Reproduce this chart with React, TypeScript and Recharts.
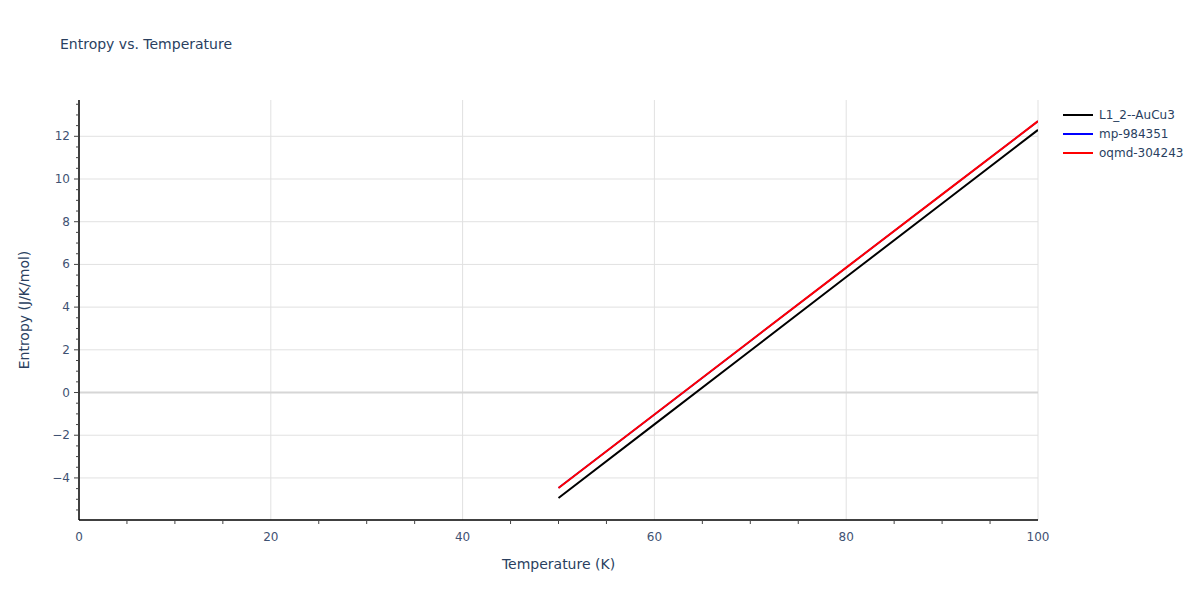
import { LineChart, Line, XAxis, YAxis, ReferenceLine, Legend } from "recharts";

const temperatures = [50, 60, 70, 80, 90, 100];
const l12AuCu3 = [-4.94, -1.49, 1.96, 5.41, 8.85, 12.3];
const mp984351 = [-4.47, -1.03, 2.41, 5.85, 9.28, 12.71];
const oqmd304243 = [-4.47, -1.03, 2.41, 5.85, 9.28, 12.71];

const xTicks = [0, 5, 10, 15, 20, 25, 30, 35, 40, 45, 50, 55, 60, 65, 70, 75, 80, 85, 90, 95, 100];
const xMajor = [0, 20, 40, 60, 80, 100];
const yTicks = [
  -5.5, -5, -4.5, -4, -3.5, -3, -2.5, -2, -1.5, -1, -0.5, 0, 0.5, 1, 1.5, 2, 2.5, 3, 3.5, 4, 4.5,
  5, 5.5, 6, 6.5, 7, 7.5, 8, 8.5, 9, 9.5, 10, 10.5, 11, 11.5, 12, 12.5, 13, 13.5,
];
const yMajor = [-4, -2, 0, 2, 4, 6, 8, 10, 12];

const data = temperatures.map((t, i) => ({
  t,
  l12: l12AuCu3[i],
  mp: mp984351[i],
  oqmd: oqmd304243[i],
}));

const font = '"DejaVu Sans", verdana, arial, sans-serif';
const textColor = "#2a3f5f";
const tickColor = "#3f5273";
const gridColor = "#e1e1e1";

const fmt = (v: number) => (v < 0 ? "\u2212" + Math.abs(v) : String(v));

const XTick = (props: any) => {
  const { x, y, payload } = props;
  const major = xMajor.includes(payload.value);
  return (
    <g>
      {!major && <line x1={x} y1={y} x2={x} y2={y + 4} stroke="#444" />}
      {major && (
        <text x={x} y={y + 21} textAnchor="middle" fontSize={12} fill={tickColor} fontFamily={font}>
          {fmt(payload.value)}
        </text>
      )}
    </g>
  );
};

const YTick = (props: any) => {
  const { x, y, payload } = props;
  const major = yMajor.includes(payload.value);
  return (
    <g>
      <line x1={x - (major ? 5 : 3)} y1={y} x2={x} y2={y} stroke="#444" />
      {major && (
        <text x={x - 9} y={y + 4} textAnchor="end" fontSize={12} fill={tickColor} fontFamily={font}>
          {fmt(payload.value)}
        </text>
      )}
    </g>
  );
};

const LegendBox = (props: any) => (
  <div style={{ fontFamily: font, fontSize: 12, color: textColor }}>
    {props.payload.map((p: any) => (
      <div key={p.value} style={{ display: "flex", alignItems: "center", height: 19 }}>
        <svg width={36} height={10}>
          <line x1={1} y1={5} x2={31} y2={5} stroke={p.color} strokeWidth={2} />
        </svg>
        <span style={{ marginLeft: 1 }}>{p.value}</span>
      </div>
    ))}
  </div>
);

export default function App() {
  return (
    <div style={{ position: "relative", width: 1200, height: 600, background: "#fff" }}>
      <style>{`body { margin: 0; }`}</style>
      <div
        style={{
          position: "absolute",
          left: 60,
          top: 36,
          fontFamily: font,
          fontSize: 14,
          color: textColor,
        }}
      >
        Entropy vs. Temperature
      </div>
      <LineChart
        width={1200}
        height={600}
        data={data}
        margin={{ top: 100, right: 22, left: 39, bottom: 50 }}
      >
        {xMajor.slice(1).map((v) => (
          <ReferenceLine key={"x" + v} x={v} stroke={gridColor} strokeWidth={1} />
        ))}
        {yMajor.map((v) => (
          <ReferenceLine
            key={"y" + v}
            y={v}
            stroke={v === 0 ? "#d6d6d6" : gridColor}
            strokeWidth={v === 0 ? 2 : 1}
          />
        ))}
        <XAxis
          dataKey="t"
          type="number"
          domain={[0, 100]}
          ticks={xTicks}
          interval={0}
          height={30}
          tickSize={0}
          tickMargin={0}
          tickLine={false}
          tick={<XTick />}
          axisLine={{ stroke: "#000", strokeWidth: 1.5 }}
          allowDataOverflow
          label={{
            value: "Temperature (K)",
            position: "bottom",
            offset: 9,
            fill: textColor,
            fontSize: 14,
            fontFamily: font,
          }}
        />
        <YAxis
          type="number"
          domain={[-5.97, 13.7]}
          ticks={yTicks}
          interval={0}
          width={40}
          tickSize={0}
          tickMargin={0}
          tickLine={false}
          tick={<YTick />}
          axisLine={{ stroke: "#000", strokeWidth: 1.5 }}
          allowDataOverflow
          label={{
            value: "Entropy (J/K/mol)",
            angle: -90,
            position: "left",
            offset: 0,
            dx: -15,
            fill: textColor,
            fontSize: 14,
            fontFamily: font,
            style: { textAnchor: "middle" },
          }}
        />
        <Legend
          layout="vertical"
          verticalAlign="top"
          align="right"
          content={<LegendBox />}
          wrapperStyle={{ position: "absolute", left: 1062, top: 105, width: 140 }}
        />
        <Line
          dataKey="l12"
          name="L1_2--AuCu3"
          stroke="#000000"
          strokeWidth={2}
          dot={false}
          isAnimationActive={false}
        />
        <Line
          dataKey="mp"
          name="mp-984351"
          stroke="#0000ff"
          strokeWidth={1.6}
          dot={false}
          isAnimationActive={false}
        />
        <Line
          dataKey="oqmd"
          name="oqmd-304243"
          stroke="#ff0000"
          strokeWidth={2}
          dot={false}
          isAnimationActive={false}
        />
      </LineChart>
    </div>
  );
}
